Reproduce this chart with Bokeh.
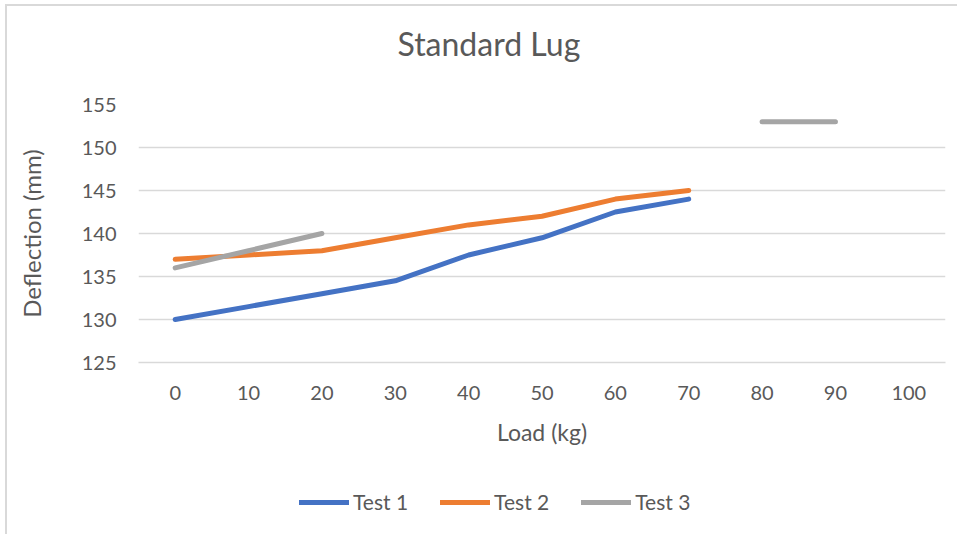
from bokeh.plotting import figure
from bokeh.layouts import column
from bokeh.models import Range1d, FixedTicker, Legend, LegendItem, Title
from bokeh.embed import file_html
from bokeh.resources import INLINE

nan = float("nan")

loads = [0, 10, 20, 30, 40, 50, 60, 70, 80, 90, 100]
test1 = [130, 131.5, 133, 134.5, 137.5, 139.5, 142.5, 144, nan, nan, nan]
test2 = [137, 137.5, 138, 139.5, 141, 142, 144, 145, nan, nan, nan]
test3 = [136, 138, 140, nan, nan, nan, nan, nan, 153, 153, nan]
y_ticks = [125, 130, 135, 140, 145, 150, 155]

title_text = "Standard Lug"
x_label = "Load (kg)"
y_label = "Deflection (mm)"
series_names = ["Test 1", "Test 2", "Test 3"]
colors = ["#4472C4", "#ED7D31", "#A5A5A5"]

FONT = "Lato"
TXT = "#595959"
GRID = "#D9D9D9"

p = figure(
    frame_width=807, frame_height=258,
    min_border_left=131, min_border_top=98, min_border_right=12, min_border_bottom=110,
    x_range=Range1d(-5, 105), y_range=Range1d(125, 155),
    output_backend="svg", toolbar_location=None,
)
p.outline_line_color = None
p.background_fill_color = "white"
p.border_fill_color = "white"

p.xgrid.grid_line_color = None
p.ygrid.grid_line_color = GRID
p.ygrid.grid_line_width = 1.5

p.xaxis.ticker = FixedTicker(ticks=loads)
p.yaxis.ticker = FixedTicker(ticks=y_ticks)
for ax in (p.xaxis, p.yaxis):
    ax.major_tick_line_color = None
    ax.minor_tick_line_color = None
    ax.major_tick_out = 0
    ax.major_tick_in = 0
    ax.major_label_text_font = FONT
    ax.major_label_text_font_size = "20px"
    ax.major_label_text_color = TXT
    ax.axis_label_text_font = FONT
    ax.axis_label_text_color = TXT
    ax.axis_label_text_font_style = "normal"
p.xaxis.axis_label_text_font_size = "23px"
p.yaxis.axis_label_text_font_size = "24px"
p.yaxis.axis_line_color = None
p.xaxis.axis_line_color = GRID
p.xaxis.axis_line_width = 1.5
p.yaxis.major_label_standoff = 22
p.xaxis.major_label_standoff = 23
p.yaxis.axis_label = y_label
p.xaxis.axis_label = x_label
p.yaxis.axis_label_standoff = 33
p.xaxis.axis_label_standoff = 15

series = [test1, test2, test3]
for ys, c in zip(series, colors):
    p.line(loads, ys, line_color=c, line_width=5, line_cap="round", line_join="round")

# blank spacer between the plot area and the title
spacer = Title(text=" ", text_font_size="1px", standoff=34)
p.add_layout(spacer, "above")

title = Title(text=title_text, align="left", offset=259, standoff=10,
              text_font=FONT, text_font_size="32px", text_color=TXT,
              text_font_style="normal")
p.add_layout(title, "above")

# legend strip below the chart (its own renderers lie outside its view range)
lg = figure(
    frame_width=950, frame_height=62,
    min_border_left=0, min_border_right=0, min_border_top=0, min_border_bottom=0,
    x_range=Range1d(0, 1), y_range=Range1d(0, 1),
    output_backend="svg", toolbar_location=None,
)
lg.axis.visible = False
lg.grid.visible = False
lg.outline_line_color = None
lg.background_fill_color = "white"
lg.border_fill_color = "white"
key_renderers = [lg.line(loads, ys, line_color=c, line_width=5, line_cap="round")
                 for ys, c in zip(series, colors)]

legend = Legend(
    items=[LegendItem(label=n, renderers=[r]) for n, r in zip(series_names, key_renderers)],
    orientation="horizontal", location=(292, 20),
    glyph_width=50, glyph_height=20, label_height=20, label_standoff=4, spacing=32,
    padding=0, margin=0, border_line_color=None, background_fill_alpha=0,
    label_text_font=FONT, label_text_font_size="21px", label_text_color=TXT,
)
lg.add_layout(legend, "center")

layout = column(
    p, lg, spacing=0,
    styles={"margin-left": "5px", "margin-top": "4px",
            "border-left": "2px solid #D9D9D9", "border-top": "2px solid #D9D9D9"},
)

open("out.html", "w").write(file_html(layout, INLINE))
